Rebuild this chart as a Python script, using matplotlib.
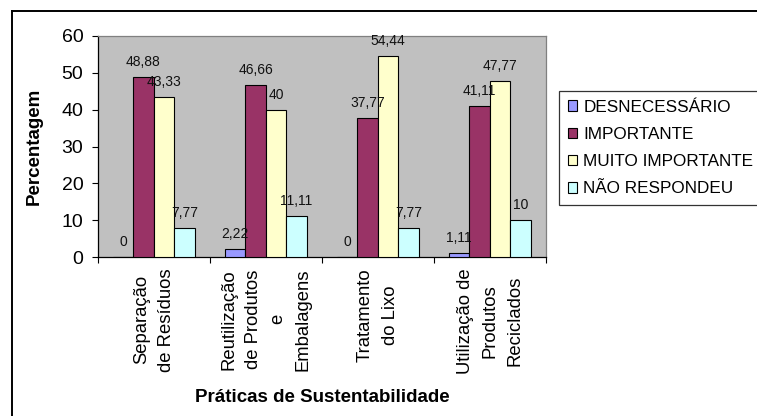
import matplotlib
matplotlib.use("Agg")
import matplotlib.pyplot as plt
from matplotlib.lines import Line2D
import numpy as np

plt.rcParams['font.family'] = ['Liberation Sans', 'DejaVu Sans']

categories = ["Separação\nde Resíduos",
              "Reutilização\nde Produtos\ne\nEmbalagens",
              "Tratamento\ndo Lixo",
              "Utilização de\nProdutos\nReciclados"]
series_names = ["DESNECESSÁRIO", "IMPORTANTE", "MUITO IMPORTANTE", "NÃO RESPONDEU"]
desnecessario = [0, 2.22, 0, 1.11]
importante = [48.88, 46.66, 37.77, 41.11]
muito_importante = [43.33, 40, 54.44, 47.77]
nao_respondeu = [7.77, 11.11, 7.77, 10]
value_labels = [["0", "2,22", "0", "1,11"],
                ["48,88", "46,66", "37,77", "41,11"],
                ["43,33", "40", "54,44", "47,77"],
                ["7,77", "11,11", "7,77", "10"]]
colors = ["#9999FF", "#993366", "#FFFFCC", "#CCFFFF"]
series = [desnecessario, importante, muito_importante, nao_respondeu]

W, H = 757, 416
fig = plt.figure(figsize=(W / 100, H / 100), dpi=100)
fig.patch.set_facecolor("white")

ax_l, ax_r, ax_t, ax_b = 97.7, 546, 36, 257
ax = fig.add_axes([ax_l / W, 1 - ax_b / H, (ax_r - ax_l) / W, (ax_b - ax_t) / H])
ax.set_facecolor("#C0C0C0")

x = np.arange(len(categories))
bw = 0.183
offsets = (np.arange(4) - 1.5) * bw
for i, (vals, col) in enumerate(zip(series, colors)):
    bars = ax.bar(x + offsets[i], vals, width=bw, color=col, edgecolor="black",
                  linewidth=0.8, label=series_names[i], zorder=3)
    for j, b in enumerate(bars):
        ax.annotate(value_labels[i][j], (b.get_x() + b.get_width() / 2, b.get_height()),
                    xytext=(0, 15), textcoords="offset pixels", ha="center", va="center",
                    fontsize=10, color="#111111", zorder=4)

ax.set_xlim(-0.5, len(categories) - 0.5)
ax.set_ylim(0, 60)
ax.set_yticks(np.arange(0, 61, 10))
ax.tick_params(axis="y", labelsize=14, length=4.3, width=0.8, pad=6, direction="out")

ax.set_xticks(x)
ax.set_xticklabels(categories, rotation=90, fontsize=13.3, ha="center", va="top",
                   multialignment="center", linespacing=1.6)
ax.tick_params(axis="x", which="major", length=0, pad=8)
ax.set_xticks(np.arange(-0.5, len(categories), 1), minor=True)
ax.tick_params(axis="x", which="minor", length=4.3, width=0.8, direction="out")

for s in ["left", "bottom"]:
    ax.spines[s].set_color("black")
    ax.spines[s].set_linewidth(0.9)
for s in ["top", "right"]:
    ax.spines[s].set_color("#808080")
    ax.spines[s].set_linewidth(0.9)

ax.set_ylabel("Percentagem", fontsize=13.5, fontweight="bold")
ax.yaxis.set_label_coords((43 - ax_l) / (ax_r - ax_l), 0.5)
ax.set_xlabel("Práticas de Sustentabilidade", fontsize=13.5, fontweight="bold", va="center")
ax.xaxis.set_label_coords(0.5, (ax_b - 397) / (ax_b - ax_t))

leg = fig.legend(loc="upper left", bbox_to_anchor=(559 / W, 1 - 91 / H),
                 bbox_transform=fig.transFigure, borderaxespad=0, fontsize=12.3,
                 frameon=True, fancybox=False, handlelength=0.57, handleheight=0.57,
                 handletextpad=0.35, labelspacing=0.72, borderpad=0.5)
leg.get_frame().set_edgecolor("black")
leg.get_frame().set_linewidth(0.9)

# outer chart border (left and top visible)
fig.add_artist(Line2D([11.5 / W, 11.5 / W], [0, 1 - 10.5 / H], transform=fig.transFigure,
                      color="black", linewidth=1.4))
fig.add_artist(Line2D([11.5 / W, 1], [1 - 10.5 / H, 1 - 10.5 / H], transform=fig.transFigure,
                      color="black", linewidth=1.4))

fig.savefig("out.png", dpi=100)
